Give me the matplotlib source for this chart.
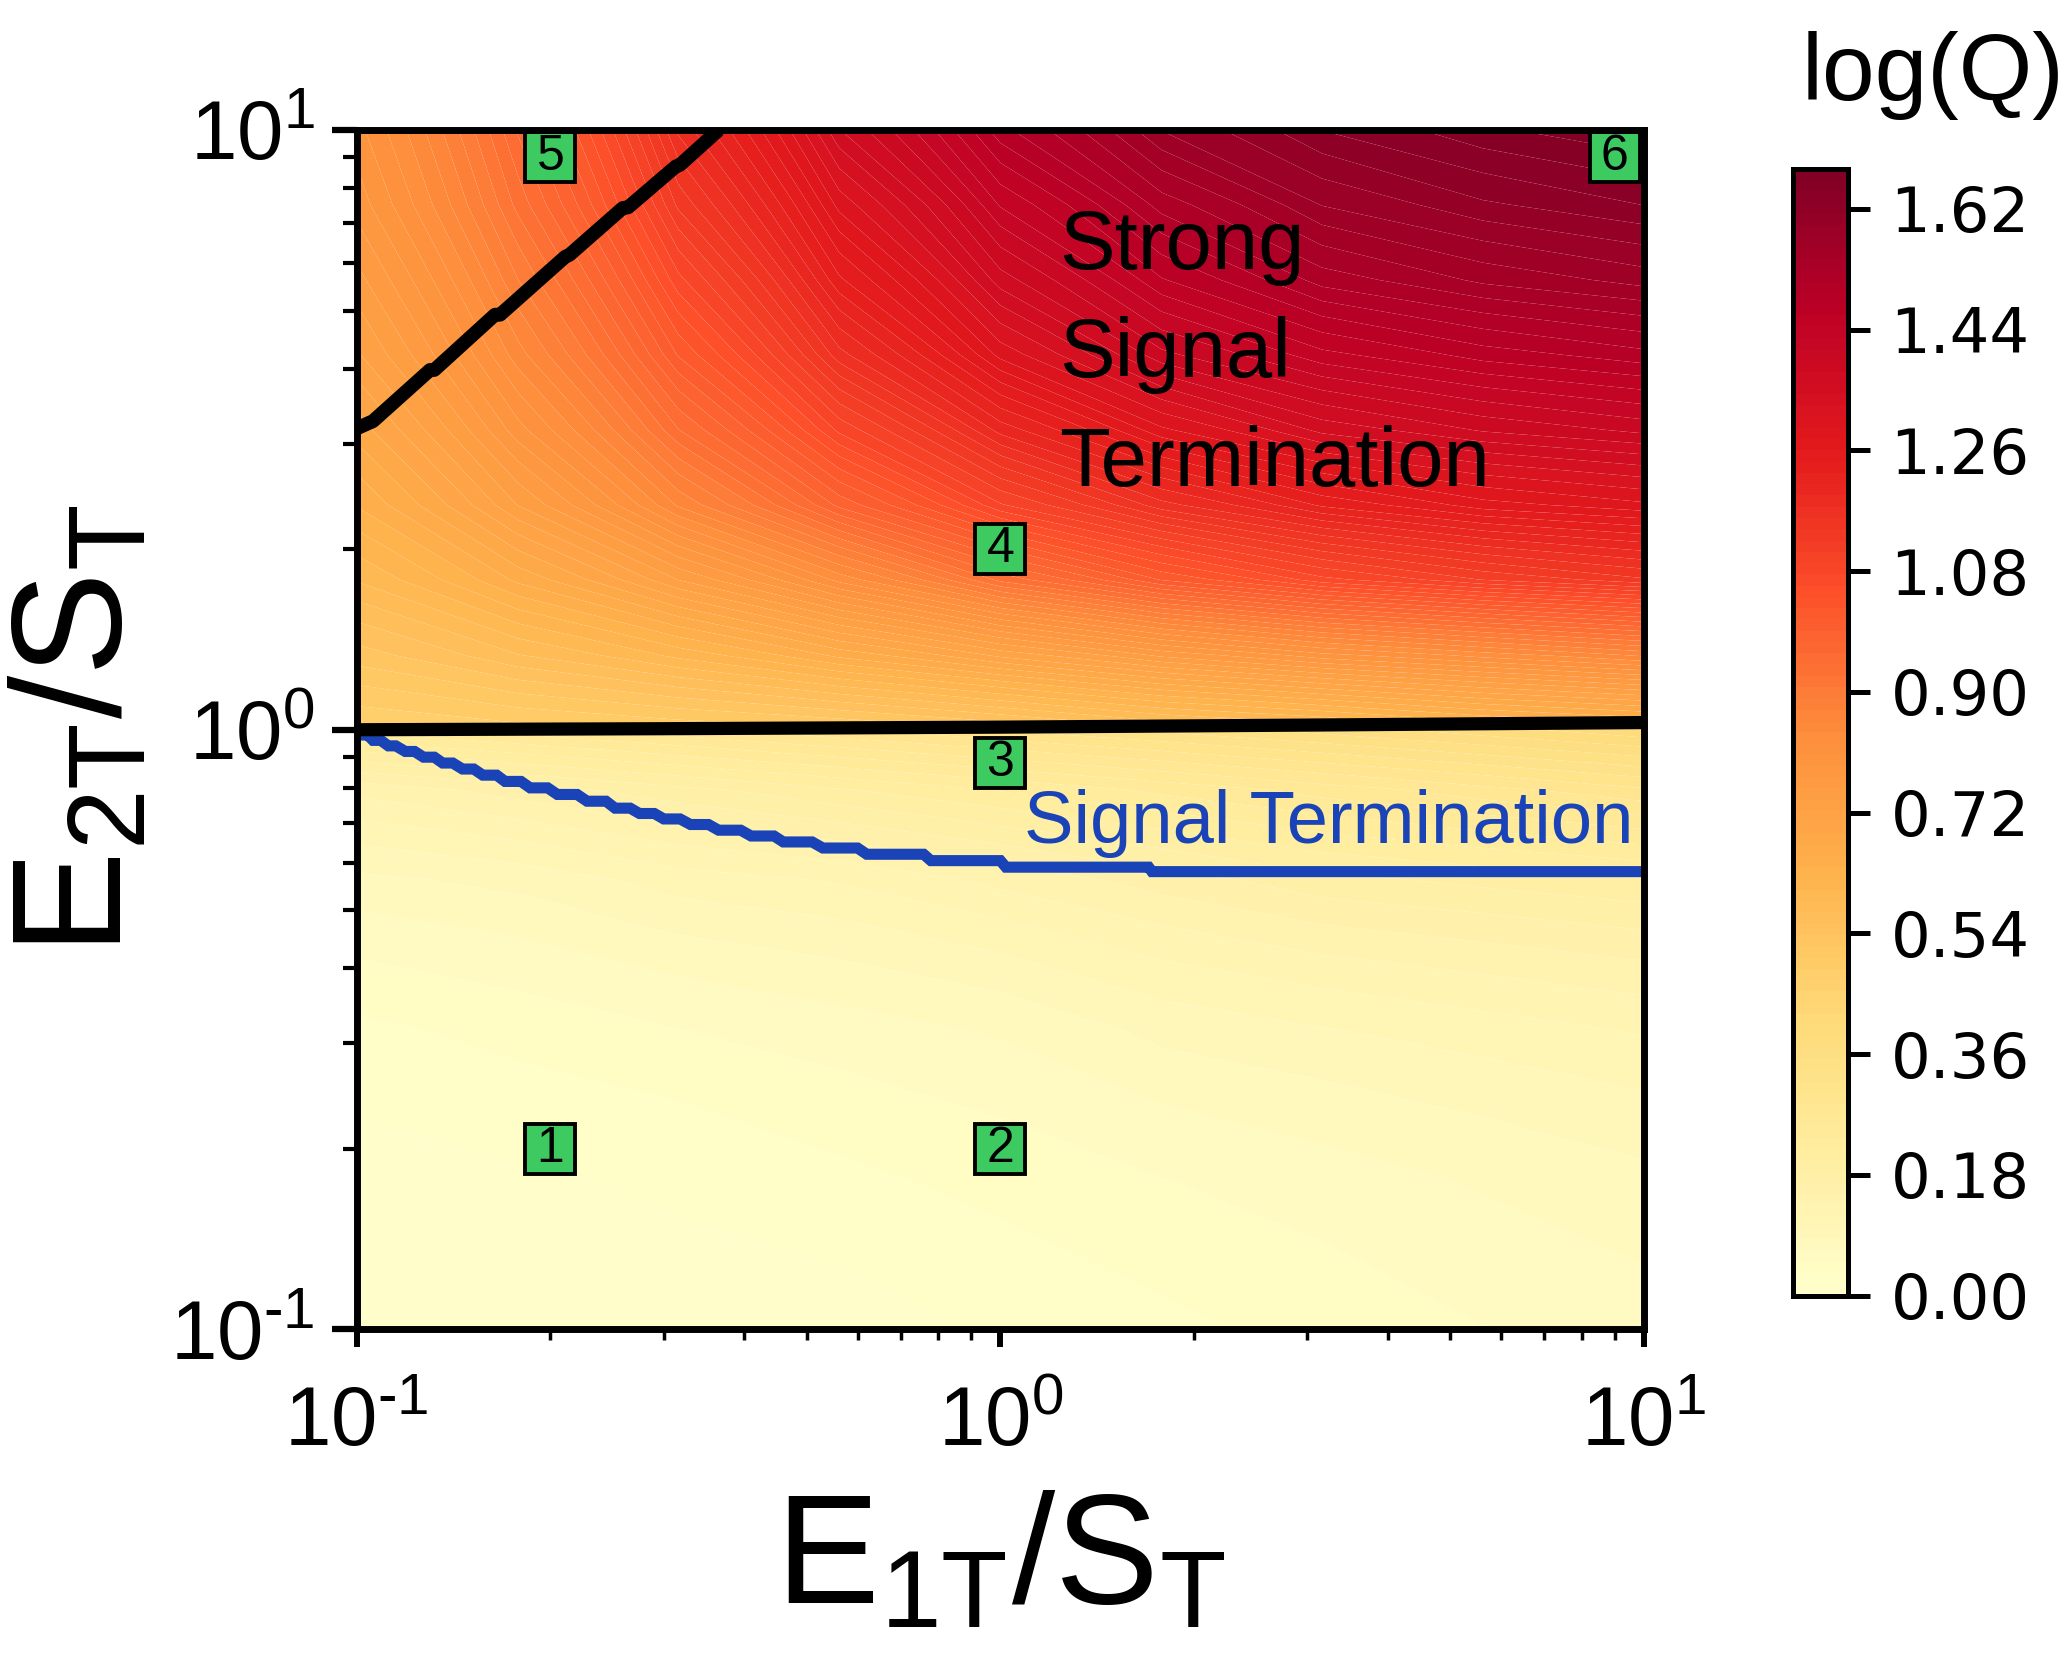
import numpy as np
import matplotlib
matplotlib.use("Agg")
import matplotlib.pyplot as plt
from matplotlib.ticker import FixedLocator, FixedFormatter

plt.rcParams['font.family'] = ['Liberation Sans', 'DejaVu Sans']
plt.rcParams['mathtext.fontset'] = 'custom'
plt.rcParams['mathtext.rm'] = 'Liberation Sans'
plt.rcParams['mathtext.it'] = 'Liberation Sans:italic'
plt.rcParams['mathtext.bf'] = 'Liberation Sans:bold'
plt.rcParams['mathtext.default'] = 'regular'
plt.rcParams['axes.unicode_minus'] = False

# ---- data -------------------------------------------------------------
# sampling grid of E1T/ST (columns) and E2T/ST (rows)
e1_grid = [0.1, 0.178, 0.316, 0.562, 1.0, 1.78, 3.16, 5.62, 10.0]
e2_grid = [0.1, 0.178, 0.316, 0.562, 0.794, 0.999,
           1.001, 1.33, 1.78, 2.37, 3.16, 4.22, 5.62, 7.50, 10.0]

# log(Q) on the grid, one row per E2T/ST value
log_q = [
    [0.00, 0.00, 0.01, 0.01, 0.02, 0.03, 0.04, 0.05, 0.06],
    [0.01, 0.015, 0.02, 0.03, 0.04, 0.05, 0.06, 0.07, 0.08],
    [0.03, 0.04, 0.05, 0.06, 0.07, 0.09, 0.10, 0.11, 0.12],
    [0.08, 0.09, 0.11, 0.12, 0.14, 0.16, 0.18, 0.19, 0.20],
    [0.14, 0.16, 0.18, 0.20, 0.22, 0.24, 0.26, 0.28, 0.30],
    [0.24, 0.26, 0.28, 0.30, 0.32, 0.34, 0.36, 0.38, 0.40],
    [0.47, 0.48, 0.49, 0.50, 0.52, 0.55, 0.57, 0.60, 0.62],
    [0.53, 0.57, 0.61, 0.66, 0.71, 0.76, 0.80, 0.83, 0.86],
    [0.59, 0.66, 0.74, 0.83, 0.93, 1.01, 1.07, 1.11, 1.14],
    [0.64, 0.74, 0.86, 0.98, 1.09, 1.17, 1.23, 1.27, 1.29],
    [0.68, 0.80, 0.94, 1.08, 1.20, 1.29, 1.35, 1.38, 1.40],
    [0.72, 0.85, 1.01, 1.17, 1.30, 1.39, 1.44, 1.47, 1.49],
    [0.75, 0.89, 1.07, 1.24, 1.37, 1.46, 1.52, 1.55, 1.57],
    [0.78, 0.93, 1.13, 1.30, 1.43, 1.52, 1.58, 1.61, 1.63],
    [0.80, 0.96, 1.18, 1.36, 1.49, 1.58, 1.63, 1.66, 1.68],
]

# boundary of the strong-termination region (E2T/ST ~ 1)
strong_x = [0.1, 0.3, 1.0, 3.0, 10.0]
strong_y = [1.0, 1.004, 1.01, 1.018, 1.028]

# upper-left boundary
diag_x = [0.100, 0.106, 0.130, 0.132, 0.164, 0.167, 0.211, 0.214,
          0.259, 0.264, 0.313, 0.318, 0.365]
diag_y = [3.18, 3.27, 3.98, 3.98, 4.92, 4.92, 6.15, 6.19,
          7.41, 7.43, 8.69, 8.75, 10.0]

# signal-termination boundary
term_x = [0.1000, 0.1005, 0.1025, 0.1040, 0.1060, 0.1090, 0.1120, 0.1150,
          0.1190, 0.1230, 0.1270, 0.1320, 0.1360, 0.1410, 0.1460, 0.1520,
          0.1570, 0.1650, 0.1700, 0.1800, 0.1860, 0.1980, 0.2050, 0.2200,
          0.2280, 0.2440, 0.2520, 0.2660, 0.2750, 0.2900, 0.3000, 0.3180,
          0.3300, 0.3520, 0.3650, 0.3950, 0.4100, 0.4450, 0.4600, 0.5100,
          0.5300, 0.6000, 0.6200, 0.7600, 0.7800, 1.0000, 1.0200, 1.7000,
          1.7200, 10.0]
term_y = [1.00, 1.00, 0.98, 0.98, 0.96, 0.96, 0.94, 0.94,
          0.92, 0.92, 0.90, 0.90, 0.88, 0.88, 0.86, 0.86,
          0.84, 0.84, 0.82, 0.82, 0.80, 0.80, 0.78, 0.78,
          0.76, 0.76, 0.74, 0.74, 0.725, 0.725, 0.71, 0.71,
          0.695, 0.695, 0.68, 0.68, 0.665, 0.665, 0.65, 0.65,
          0.635, 0.635, 0.62, 0.62, 0.605, 0.605, 0.59, 0.59,
          0.58, 0.58]

# numbered operating points
point_x = [0.2, 1.0, 1.0, 1.0, 0.2, 9.0]
point_y = [0.2, 0.2, 0.88, 2.0, 9.0, 9.0]
point_labels = ['1', '2', '3', '4', '5', '6']

decade_ticks = [0.1, 1.0, 10.0]
decade_labels = [r'$\mathregular{10^{\text{-}1}}$', r'$\mathregular{10^{0}}$',
                 r'$\mathregular{10^{1}}$']

cbar_ticks = [0.00, 0.18, 0.36, 0.54, 0.72, 0.90, 1.08, 1.26, 1.44, 1.62]
q_min, q_max = 0.0, 1.68

# ---- figure -----------------------------------------------------------
fig = plt.figure(figsize=(20.72, 16.53), dpi=100)
ax = fig.add_axes([0.17215, 0.19571, 0.62129, 0.72565])

X, Y = np.meshgrid(e1_grid, e2_grid)
Z = np.array(log_q)
cf = ax.contourf(X, Y, Z, levels=np.linspace(q_min, q_max, 101),
                 cmap='YlOrRd', antialiased=True, zorder=1)

ax.plot(term_x, term_y, color='#1a43b8', lw=8, zorder=3,
        solid_joinstyle='miter')
ax.plot(strong_x, strong_y, color='black', lw=9.5, zorder=4)
ax.plot(diag_x, diag_y, color='black', lw=10, zorder=4,
        solid_capstyle='butt')

ax.plot(point_x, point_y, ls='none', marker='s', ms=36,
        mfc='#3dcb61', mec='black', mew=2.8, zorder=5, clip_on=False)
for px, py, lab in zip(point_x, point_y, point_labels):
    ax.text(px, py, lab, fontsize=36, ha='center', va='center',
            zorder=6)

ax.text(1.236, 2.55, 'Strong\nSignal\nTermination', fontsize=60,
        ha='left', va='baseline', linespacing=1.5, zorder=6)
ax.text(1.087, 0.648, 'Signal Termination', fontsize=53.5, color='#1a43b8',
        ha='left', va='baseline', zorder=6)

ax.set_xscale('log')
ax.set_yscale('log')
ax.set_xlim(0.1, 10)
ax.set_ylim(0.1, 10)
for axis in (ax.xaxis, ax.yaxis):
    axis.set_major_locator(FixedLocator(decade_ticks))
    axis.set_major_formatter(FixedFormatter(decade_labels))

for s in ax.spines.values():
    s.set_linewidth(5)
    s.set_zorder(10)

ax.tick_params(axis='both', which='both', direction='out',
               top=False, right=False, labelsize=60)
ax.tick_params(axis='y', which='major', length=18, width=4.5, pad=12)
ax.tick_params(axis='y', which='minor', length=10, width=3)
ax.tick_params(axis='x', which='major', length=13, width=4.3, pad=27)
ax.tick_params(axis='x', which='minor', length=8, width=2.5)

ax.set_xlabel(r'$\mathregular{E_{1T}/S_T}$', fontsize=112, labelpad=20)
ax.set_ylabel(r'$\mathregular{E_{2T}/S_T}$', fontsize=112, labelpad=12)

# colour bar
cax = fig.add_axes([0.86511, 0.21627, 0.026544, 0.68167])
cb = fig.colorbar(cf, cax=cax, ticks=cbar_ticks)
cb.outline.set_linewidth(3.6)
cb.ax.minorticks_off()
cb.ax.tick_params(length=16, width=3.6, pad=15)
cb.ax.set_yticklabels([f'{t:.2f}' for t in cbar_ticks],
                      fontfamily='DejaVu Sans', fontsize=45)
fig.text(1933 / 2072, 1 - 100 / 1653, 'log(Q)', fontsize=68,
         ha='center', va='baseline')

fig.savefig('out.png', dpi=100)
